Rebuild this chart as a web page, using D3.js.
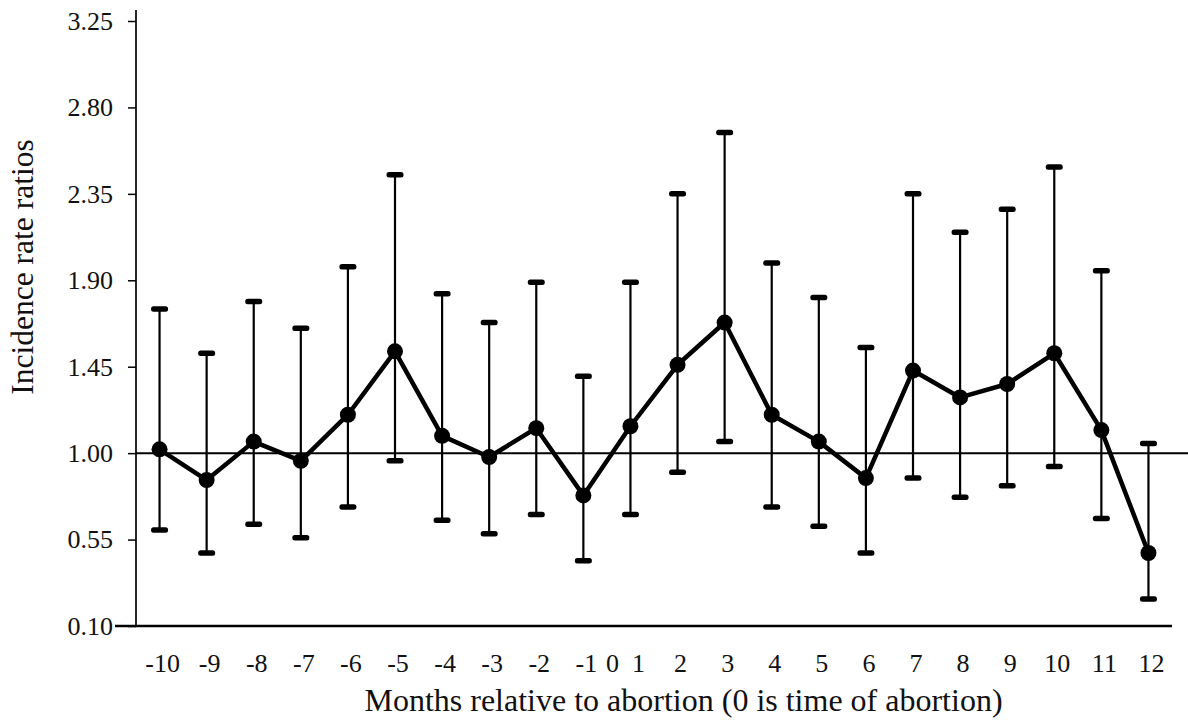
<!DOCTYPE html>
<html>
<head>
<meta charset="utf-8">
<script src="https://cdn.jsdelivr.net/npm/d3@7"></script>
<style>
  body { margin: 0; background: #fff; }
  svg { display: block; font-family: "Liberation Serif", "Times New Roman", serif; }
</style>
</head>
<body>
<svg id="chart" width="1188" height="723"></svg>
<script>
// Incidence rate ratios by month relative to abortion (month 0 has no point)
const months = ["-10", "-9", "-8", "-7", "-6", "-5", "-4", "-3", "-2", "-1",
                "1", "2", "3", "4", "5", "6", "7", "8", "9", "10", "11", "12"];
const tickLabels = ["-10", "-9", "-8", "-7", "-6", "-5", "-4", "-3", "-2", "-1",
                    "0  1", "2", "3", "4", "5", "6", "7", "8", "9", "10", "11", "12"];
const irr   = [1.02, 0.86, 1.06, 0.96, 1.20, 1.53, 1.09, 0.98, 1.13, 0.78, 1.14,
               1.46, 1.68, 1.20, 1.06, 0.87, 1.43, 1.29, 1.36, 1.52, 1.12, 0.48];
const lower = [0.60, 0.48, 0.63, 0.56, 0.72, 0.96, 0.65, 0.58, 0.68, 0.44, 0.68,
               0.90, 1.06, 0.72, 0.62, 0.48, 0.87, 0.77, 0.83, 0.93, 0.66, 0.24];
const upper = [1.75, 1.52, 1.79, 1.65, 1.97, 2.45, 1.83, 1.68, 1.89, 1.40, 1.89,
               2.35, 2.67, 1.99, 1.81, 1.55, 2.35, 2.15, 2.27, 2.49, 1.95, 1.05];
const yTicks = [0.10, 0.55, 1.00, 1.45, 1.90, 2.35, 2.80, 3.25];

const svg = d3.select("#chart");
const plotLeft = 136, plotRight = 1172, plotTop = 21, plotBottom = 626;
const serif = "Liberation Serif, Times New Roman, serif";

const data = months.map((m, i) => ({ m, label: tickLabels[i], v: irr[i], lo: lower[i], hi: upper[i] }));

const x = d3.scaleBand().domain(months).range([plotLeft, plotRight]).padding(0);
const cx = m => x(m) + x.bandwidth() / 2;
const y = d3.scaleLinear().domain([0.10, 3.25]).range([plotBottom, plotTop]);

// Y axis
const yAxis = svg.append("g")
    .attr("transform", `translate(${plotLeft},0)`)
    .call(d3.axisLeft(y).tickValues(yTicks).tickFormat(d3.format(".2f")).tickSize(8).tickPadding(15))
    .attr("font-family", serif)
    .attr("font-size", 26);
yAxis.select(".domain").remove();
yAxis.selectAll("line").attr("stroke", "#000").attr("stroke-width", 1.5);
yAxis.selectAll("text").attr("fill", "#111");

svg.append("line")
    .attr("x1", plotLeft).attr("x2", plotLeft)
    .attr("y1", plotTop - 11).attr("y2", plotBottom)
    .attr("stroke", "#000").attr("stroke-width", 1.7);

// X axis: bottom line + labels
svg.append("line")
    .attr("x1", 115).attr("x2", plotRight)
    .attr("y1", plotBottom).attr("y2", plotBottom)
    .attr("stroke", "#000").attr("stroke-width", 2.5);

const xAxis = svg.append("g")
    .attr("transform", `translate(0,${plotBottom})`)
    .call(d3.axisBottom(x).tickSize(0).tickFormat((d, i) => tickLabels[i]))
    .attr("font-family", serif)
    .attr("font-size", 26);
xAxis.select(".domain").remove();
xAxis.selectAll("text")
    .attr("y", 46).attr("dy", 0)
    .attr("dx", d => d === "1" ? -5 : 3)   // the shared "0  1" label sits a little left
    .attr("fill", "#111")
    .style("white-space", "pre");

// Reference line at 1.00
svg.append("line")
    .attr("x1", plotLeft).attr("x2", 1188)
    .attr("y1", y(1)).attr("y2", y(1))
    .attr("stroke", "#000").attr("stroke-width", 2);

// Error bars
svg.append("g").selectAll("line")
    .data(data).join("line")
    .attr("x1", d => cx(d.m)).attr("x2", d => cx(d.m))
    .attr("y1", d => y(d.hi)).attr("y2", d => y(d.lo))
    .attr("stroke", "#000").attr("stroke-width", 2.2);

const caps = data.flatMap(d => [d.hi, d.lo].map(v => ({ m: d.m, v })));
svg.append("g").selectAll("rect")
    .data(caps).join("rect")
    .attr("x", d => cx(d.m) - 8.5).attr("y", d => y(d.v) - 2.75)
    .attr("width", 17).attr("height", 5.5)
    .attr("rx", 2.5)
    .attr("fill", "#000");

// IRR line and points
const line = d3.line().x(d => cx(d.m)).y(d => y(d.v));
svg.append("path")
    .datum(data)
    .attr("d", line)
    .attr("fill", "none")
    .attr("stroke", "#000")
    .attr("stroke-width", 4.5)
    .attr("stroke-linejoin", "round");

svg.append("g").selectAll("circle")
    .data(data).join("circle")
    .attr("cx", d => cx(d.m)).attr("cy", d => y(d.v))
    .attr("r", 8)
    .attr("fill", "#000");

// Axis titles
svg.append("text")
    .attr("x", 683.5).attr("y", 711)
    .attr("text-anchor", "middle")
    .attr("font-size", 32)
    .attr("fill", "#111")
    .text("Months relative to abortion (0 is time of abortion)");

svg.append("text")
    .attr("transform", "translate(33,267) rotate(-90)")
    .attr("text-anchor", "middle")
    .attr("font-size", 31.5)
    .attr("fill", "#111")
    .text("Incidence rate ratios");
</script>
</body>
</html>
